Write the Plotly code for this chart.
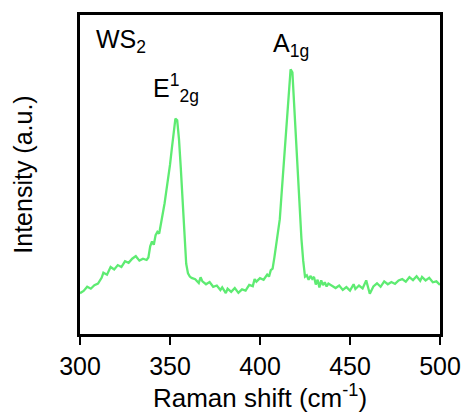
import plotly.graph_objects as go

raman_shift = [300, 302, 304, 306, 308, 310, 312, 313, 315, 317, 319, 321, 323, 325, 327, 329, 331, 333, 335, 337,
               338, 339, 340, 341, 342, 343, 344, 345, 346, 347, 348, 349, 350, 351, 352, 353, 354, 355, 356, 357,
               358, 359, 360, 361, 362, 364, 366, 367, 368, 370, 372, 374, 376, 378, 379, 381, 382, 384, 386, 388,
               390, 392, 394, 396, 397, 398, 400, 402, 404, 405, 406, 407, 408, 409, 410, 411, 412, 413, 414, 415,
               416, 417, 418, 419, 420, 421, 422, 423, 424, 425, 426, 427, 428, 429, 430, 431, 432, 433, 434, 435,
               436, 437, 438, 440, 442, 444, 446, 448, 450, 452, 453, 455, 457, 459, 461, 463, 465, 467, 469, 471,
               473, 475, 477, 479, 481, 483, 485, 487, 489, 490, 492, 494, 496, 498, 500]
intensity = [12.8, 13.5, 14.8, 14.2, 15.3, 15.8, 17.6, 19.2, 18.6, 21.0, 20.2, 21.6, 21.0, 22.8, 22.3, 23.6, 24.4, 23.0, 23.6, 23.2,
             24.0, 27.5, 29.0, 28.0, 31.0, 32.0, 31.5, 34.5, 37.0, 41.0, 45.0, 48.5, 53.0, 58.0, 63.5, 67.5, 67.0, 61.0, 52.0, 41.0,
             30.0, 22.0, 19.0, 18.0, 17.6, 17.2, 16.0, 17.8, 16.5, 15.6, 16.3, 14.8, 15.2, 13.8, 14.6, 12.8, 14.2, 13.2, 14.4, 12.9,
             14.0, 13.6, 15.4, 15.0, 17.2, 16.4, 17.5, 17.0, 18.6, 18.0, 20.0, 20.5, 24.0, 28.0, 31.0, 36.0, 44.0, 52.0, 60.0, 68.0,
             77.0, 83.0, 82.0, 72.0, 60.0, 50.0, 38.0, 30.0, 23.0, 18.0, 18.4, 17.0, 18.2, 17.3, 17.9, 15.5, 17.0, 14.6, 16.8, 15.3,
             16.2, 14.9, 15.8, 15.0, 14.4, 15.2, 13.8, 14.7, 13.6, 15.6, 14.1, 15.2, 14.3, 16.8, 12.6, 14.9, 15.9, 14.8, 16.5, 15.6,
             16.3, 15.7, 16.8, 17.2, 16.4, 17.8, 16.9, 18.1, 16.7, 17.9, 16.8, 17.6, 16.2, 16.5, 15.4]
x_ticks = [300, 350, 400, 450, 500]

FONT = "Liberation Sans, Arial, sans-serif"

fig = go.Figure()
fig.add_trace(go.Scatter(x=raman_shift, y=intensity, mode="lines",
                         line=dict(color="#5EEB72", width=2.3), showlegend=False))

fig.add_annotation(x=308, y=92, text="WS<sub>2</sub>", showarrow=False, xanchor="left", yanchor="middle",
                   font=dict(family=FONT, size=25, color="black"))
fig.add_annotation(x=417, y=90.5, text="A<sub>1g</sub>", showarrow=False, xanchor="center", yanchor="middle",
                   font=dict(family=FONT, size=25, color="black"))
fig.add_annotation(x=353.5, y=77, text="E<sup>1</sup><sub>2g</sub>", showarrow=False, xanchor="center", yanchor="middle",
                   font=dict(family=FONT, size=25, color="black"))

fig.update_layout(
    width=466, height=414,
    margin=dict(l=80, r=26, t=15, b=80),
    paper_bgcolor="white", plot_bgcolor="white",
    font=dict(family=FONT, size=25, color="black"),
    xaxis=dict(range=[300, 500], tickvals=x_ticks, ticks="outside", ticklen=8, tickwidth=2,
               tickcolor="black", showline=True, linewidth=3, linecolor="black", mirror=True,
               showgrid=False, zeroline=False, tickfont=dict(size=25), automargin=False,
               title=dict(text="Raman shift (cm<sup>-1</sup>)", font=dict(size=26), standoff=2)),
    yaxis=dict(range=[0, 100], showticklabels=False, ticks="", showline=True, linewidth=3,
               linecolor="black", mirror=True, showgrid=False, zeroline=False, automargin=False,
               title=dict(text="Intensity (a.u.)", font=dict(size=25), standoff=38)),
)

fig.write_html("out.html")
